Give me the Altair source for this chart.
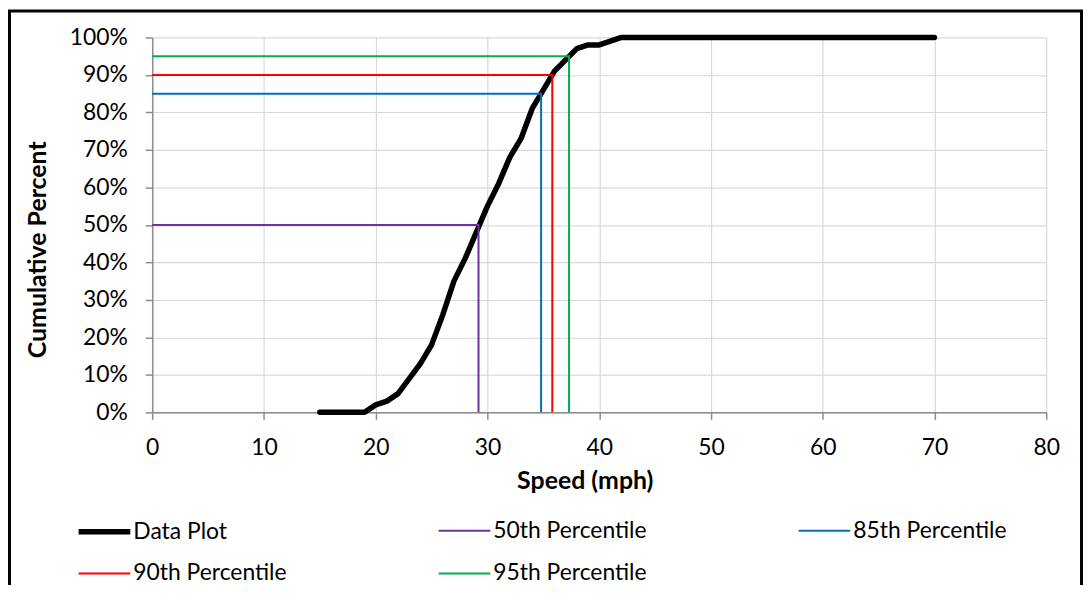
import altair as alt
import pandas as pd

# ---- data ----
speeds = [15, 16, 17, 18, 19, 20, 21, 22, 23, 24, 25, 26, 27, 28, 29, 30, 31, 32, 33, 34,
          35, 36, 37, 38, 39, 40, 41, 42, 43, 44, 45, 46, 47, 48, 49, 50, 51, 52, 53, 54,
          55, 56, 57, 58, 59, 60, 61, 62, 63, 64, 65, 66, 67, 68, 69, 70]
cum_pct = [0, 0, 0, 0, 0, 2, 3, 5, 9, 13, 18, 26, 35, 41, 48, 55, 61, 68, 73, 81,
           86, 91, 94, 97, 98, 98, 99, 100, 100, 100, 100, 100, 100, 100, 100, 100, 100, 100, 100, 100,
           100, 100, 100, 100, 100, 100, 100, 100, 100, 100, 100, 100, 100, 100, 100, 100]

pct_names = ["50th Percentile", "85th Percentile", "90th Percentile", "95th Percentile"]
pct_levels = [50, 85, 90, 95]
pct_speeds = [29.2, 34.8, 35.8, 37.3]

series_order = ["Data Plot"] + pct_names
series_colors = ["#000000", "#7030A0", "#0070C0", "#FF0000", "#00B050"]
series_widths = [5.5, 2, 2, 2, 2]

x_ticks = [0, 10, 20, 30, 40, 50, 60, 70, 80]
y_ticks = [0, 10, 20, 30, 40, 50, 60, 70, 80, 90, 100]

FONT = "Lato"

# ---- tables ----
curve = pd.DataFrame({"speed": speeds, "pct": cum_pct,
                      "series": "Data Plot", "idx": list(range(len(speeds)))})
rows = []
for name, lvl, spd in zip(pct_names, pct_levels, pct_speeds):
    rows.append({"speed": 0, "pct": lvl, "series": name, "idx": 0})
    rows.append({"speed": spd, "pct": lvl, "series": name, "idx": 1})
    rows.append({"speed": spd, "pct": 0, "series": name, "idx": 2})
pct_df = pd.DataFrame(rows)

legend = alt.Legend(
    title=None, orient="none", legendX=-77, legendY=468, direction="horizontal",
    columns=3, gridAlign="all", columnPadding=148, rowPadding=3,
    symbolType="stroke", symbolSize=2704, labelFont=FONT, labelFontSize=23,
    labelColor="#000000", labelOffset=0, padding=0, labelLimit=400,
)

x_enc = alt.X("speed:Q", title="Speed (mph)",
              scale=alt.Scale(domain=[0, 80], nice=False, zero=False),
              axis=alt.Axis(values=x_ticks, tickSize=7, labelPadding=35, labelFlush=False,
                            labelBaseline="alphabetic", titleX=435, titleY=77,
                            titleAlign="center", titleBaseline="alphabetic"))
y_enc = alt.Y("pct:Q", title="Cumulative Percent",
              scale=alt.Scale(domain=[0, 100], nice=False),
              axis=alt.Axis(values=y_ticks, labelExpr="datum.value + '%'", labelFlush=False,
                            tickSize=7, labelPadding=18, titleX=-115, titleY=213,
                            titleAngle=-90, titleAlign="center", titleBaseline="middle"))
color_enc = alt.Color("series:N", scale=alt.Scale(domain=series_order, range=series_colors),
                      legend=legend)
sw_enc = alt.StrokeWidth("series:N",
                         scale=alt.Scale(type="ordinal", domain=series_order, range=series_widths),
                         legend=legend)

curve_layer = alt.Chart(curve).mark_line(strokeCap="round", strokeJoin="round").encode(
    x=x_enc, y=y_enc, color=color_enc, strokeWidth=sw_enc, order="idx:Q")
pct_layer = alt.Chart(pct_df).mark_line(strokeJoin="miter").encode(
    x=x_enc, y=y_enc, color=color_enc, strokeWidth=sw_enc, order="idx:Q")

frame = alt.Chart(pd.DataFrame({"a": [0]})).mark_rect(
    filled=False, stroke="#000000", strokeWidth=3).encode(
    x=alt.value(-143.5), x2=alt.value(934.5), y=alt.value(-26.5), y2=alt.value(700))

chart = alt.layer(frame, curve_layer, pct_layer).properties(
    width=899, height=377,
    autosize=alt.AutoSizeParams(type="none"),
    padding={"left": 145, "top": 28, "right": 37, "bottom": 172},
    background="#ffffff",
).configure_view(strokeWidth=0).configure_axis(
    labelFont=FONT, labelFontSize=23, labelColor="#000000",
    titleFont=FONT, titleFontSize=25, titleFontWeight="bold", titleColor="#000000",
    domainColor="#8c8c8c", domainWidth=1.5, tickColor="#8c8c8c", tickWidth=1.5,
    gridColor="#d9d9d9", gridWidth=1.2,
)

chart.save("out.html", embed_options={"renderer": "svg", "actions": False})
